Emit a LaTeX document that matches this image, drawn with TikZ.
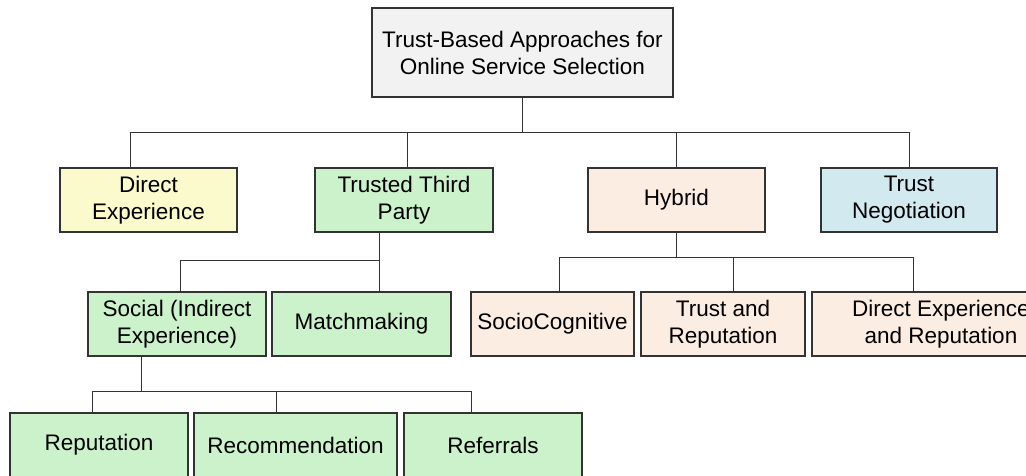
\documentclass[tikz,border=0pt]{standalone}
\usepackage{fontspec}
\setmainfont{Liberation Sans}
\usetikzlibrary{calc}
\definecolor{cgray}{HTML}{F2F2F2}
\definecolor{cyellow}{HTML}{FAFACC}
\definecolor{cgreen}{HTML}{CCF2CC}
\definecolor{cpeach}{HTML}{FCEDE2}
\definecolor{cblue}{HTML}{D2E9EF}
\definecolor{cline}{HTML}{333333}
\tikzset{
  box/.style={draw=cline, line width=1.3pt, align=center, inner sep=0pt,
    minimum height=64pt, font=\fontsize{22.5}{27}\selectfont},
  conn/.style={draw=cline, line width=1pt},
}
\begin{document}
\begin{tikzpicture}[x=1pt,y=-1pt]
\useasboundingbox (0,0) rectangle (1026,476);
% top
\node[box, fill=cgray, minimum width=301pt, minimum height=89pt] (top) at (522.5,52.5) {Trust-Based Approaches for\\Online Service Selection};
% level 2
\node[box, fill=cyellow, minimum width=177pt] (de) at (148.5,200) {Direct\\Experience};
\node[box, fill=cgreen, minimum width=178pt] (ttp) at (404,200) {Trusted Third\\Party};
\node[box, fill=cpeach, minimum width=177pt] (hyb) at (676.5,200) {Hybrid};
\node[box, fill=cblue, minimum width=176pt] (tn) at (909,200) {Trust\\Negotiation};
% level 3
\node[box, fill=cgreen, minimum width=178pt] (soc) at (177,324) {Social (Indirect\\Experience)};
\node[box, fill=cgreen, minimum width=179pt] (mm) at (361.5,324) {Matchmaking};
\node[box, fill=cpeach, minimum width=163pt] (sc) at (552.5,324) {SocioCognitive};
\node[box, fill=cpeach, minimum width=164pt] (tr) at (723,324) {Trust and\\Reputation};
\node[box, fill=cpeach, minimum width=258pt] (der) at (941,324) {Direct Experience\\and Reputation};
% level 4
\node[box, fill=cgreen, minimum width=178pt] (rep) at (99,445) {Reputation};
\node[box, fill=cgreen, minimum width=203pt] (rec) at (295.5,445) {Recommendation};
\node[box, fill=cgreen, minimum width=178pt] (ref) at (493,445) {Referrals};
% bus coordinates
\coordinate (b1) at (0,133);
\coordinate (b2) at (0,260);
\coordinate (b3) at (0,257);
\coordinate (b4) at (0,391);
\coordinate (ttpout) at ($(ttp.south)+(-25,0)$);
\coordinate (socout) at ($(soc.south)+(-36,0)$);
% top -> level 2
\draw[conn] (top.south) -- (top.south |- b1);
\draw[conn] ($(de.north)+(-18.5,0)$) |- (top.south |- b1);
\draw[conn] ($(ttp.north)+(3,0)$) |- (top.south |- b1);
\draw[conn] (hyb.north) |- (top.south |- b1);
\draw[conn] (tn.north) |- (top.south |- b1);
% ttp -> level 3
\draw[conn] (ttpout) -- (ttpout |- b2);
\draw[conn] ($(soc.north)+(3,0)$) |- (ttpout |- b2);
\draw[conn] ($(mm.north)+(17.5,0)$) |- (ttpout |- b2);
% hybrid -> level 3
\draw[conn] (hyb.south) -- (hyb.south |- b3);
\draw[conn] ($(sc.north)+(6.5,0)$) |- (hyb.south |- b3);
\draw[conn] ($(tr.north)+(10,0)$) |- (hyb.south |- b3);
\draw[conn] ($(der.north)+(-28,0)$) |- (hyb.south |- b3);
% social -> level 4
\draw[conn] (socout) -- (socout |- b4);
\draw[conn] ($(rep.north)+(-7,0)$) |- (socout |- b4);
\draw[conn] ($(rec.north)+(-19.5,0)$) |- (socout |- b4);
\draw[conn] ($(ref.north)+(-22,0)$) |- (socout |- b4);
\end{tikzpicture}
\end{document}
